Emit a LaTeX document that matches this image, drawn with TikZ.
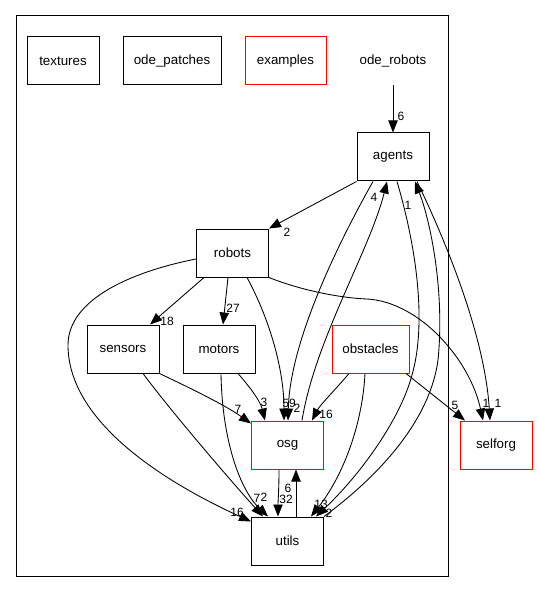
\documentclass[tikz,border=0pt]{standalone}
\usepackage{fontspec}
\setmainfont{Liberation Sans}
\usetikzlibrary{arrows.meta,calc}
\tikzset{
  box/.style={draw=black, line width=0.75pt, inner sep=0pt, minimum height=36pt, font=\fontsize{10}{12}\selectfont},
  redbox/.style={box, draw=red},
  plain/.style={inner sep=0pt, minimum height=36pt, font=\fontsize{10}{12}\selectfont},
  dep/.style={-{Triangle[length=9pt,width=7pt]}, line width=0.65pt},
  lbl/.style={font=\fontsize{9}{10}\selectfont, inner sep=0pt},
}
\begin{document}
\begin{tikzpicture}[x=0.75pt,y=-0.75pt]
\useasboundingbox (0,0) rectangle (537,602);
% cluster
\node[draw=black, line width=0.75pt, minimum width=324pt, minimum height=420pt, inner sep=0pt] (cluster) at (232,296) {};
% nodes
\node[box, minimum width=54pt] (textures) at (63,61) {textures};
\node[box, minimum width=73.5pt] (odepatches) at (172,61) {ode\_patches};
\node[redbox, minimum width=60.75pt] (examples) at (285.5,61) {examples};
\node[plain] (oderobots) at (393,61) {ode\_robots};
\node[box, minimum width=54pt] (agents) at (393,157) {agents};
\node[box, minimum width=54pt] (robots) at (232.5,253) {robots};
\node[box, minimum width=54pt] (sensors) at (123,349) {sensors};
\node[box, minimum width=54pt] (motors) at (219,349) {motors};
\node[redbox, minimum width=57.75pt] (obstacles) at (370.5,349) {obstacles};
\node[redbox, minimum width=54pt] (osg) at (287.5,445) {osg};
\node[box, minimum width=54pt] (utils) at (287.5,541) {utils};
\node[redbox, minimum width=54pt] (selforg) at (496,445) {selforg};
% edges
\draw[dep] (oderobots.south) -- (agents.north);
\draw[dep] (agents.south west) -- (robots.north east);
\draw[dep] ($(robots.south)+(-28.5,0)$) -- ($(sensors.north)+(27,0)$);
\draw[dep] ($(robots.south)+(-4.5,0)$) -- ($(motors.north)+(4,0)$);
\draw[dep] ($(robots.west)+(0,6)$) .. controls (130,272) and (68,300) .. (68,345)
   .. controls (68,420) and (160,480) .. ($(utils.north west)+(0,5)$);
\draw[dep] ($(robots.south)+(14.5,0)$) .. controls (270,320) and (284,370) .. ($(osg.north)+(-3.5,0)$);
\draw[dep] (robots.south east) .. controls (300,290) and (340,298) .. (367,299)
   .. controls (420,302) and (470,360) .. ($(selforg.north)+(-13,0)$);
\draw[dep] (sensors.south east) .. controls (190,388) and (225,405) .. ($(osg.north west)+(0,3)$);
\draw[dep] ($(sensors.south)+(20,0)$) .. controls (170,410) and (230,480) .. ($(utils.north)+(-24.5,0)$);
\draw[dep] ($(motors.south)+(19,0)$) .. controls (248,385) and (260,400) .. ($(osg.north)+(-22.5,0)$);
\draw[dep] ($(motors.south)+(2,0)$) .. controls (222,440) and (240,490) .. ($(utils.north)+(-19.5,0)$);
\draw[dep] ($(osg.south)+(-8.5,0)$) .. controls (279,490) and (278,500) .. ($(utils.north)+(-9.5,0)$);
\draw[dep] ($(utils.north)+(8.5,0)$) -- ($(osg.south)+(8.5,0)$);
\draw[dep] ($(agents.south)+(-20,0)$) .. controls (340,240) and (290,340) .. ($(osg.north)+(0.5,0)$);
\draw[dep] ($(osg.north)+(14.5,0)$) .. controls (315,340) and (370,250) .. ($(agents.south)+(-6,0)$);
\draw[dep] ($(agents.south)+(4,0)$) .. controls (420,260) and (425,330) .. (412,375)
   .. controls (400,420) and (360,475) .. ($(utils.north)+(28.5,0)$);
\draw[dep] (utils.north east) .. controls (380,475) and (430,420) .. (438,360)
   .. controls (445,290) and (430,220) .. ($(agents.south)+(22,0)$);
\draw[dep] ($(agents.south)+(24,0)$) .. controls (450,250) and (485,340) .. ($(selforg.north)+(-6,0)$);
\draw[dep] ($(obstacles.south)+(-21.5,0)$) .. controls (335,390) and (320,405) .. ($(osg.north)+(24.5,0)$);
\draw[dep] ($(obstacles.south)+(-5.5,0)$) .. controls (362,430) and (340,480) .. ($(utils.north)+(23.5,0)$);
\draw[dep] ($(obstacles.south)+(35.5,0)$) -- ($(selforg.north)+(-31,0)$);
% labels
\node[lbl] (l1) at (401,116) {6};
\node[lbl] (l2) at (287,232) {2};
\node[lbl] (l3) at (167,321) {18};
\node[lbl] (l4) at (233,308) {27};
\node[lbl] (l5) at (237,512) {16};
\node[lbl] (l6) at (289,403) {59};
\node[lbl] (l7) at (297,408) {2};
\node[lbl] (l8) at (486,403) {1};
\node[lbl] (l9) at (498,403) {1};
\node[lbl] (l10) at (238,409) {7};
\node[lbl] (l11) at (257,498) {7};
\node[lbl] (l12) at (264,497) {2};
\node[lbl] (l13) at (264,402) {3};
\node[lbl] (l14) at (286,499) {32};
\node[lbl] (l15) at (288,488) {6};
\node[lbl] (l16) at (374,197) {4};
\node[lbl] (l17) at (408,205) {1};
\node[lbl] (l18) at (326,414) {16};
\node[lbl] (l19) at (321,504) {13};
\node[lbl] (l20) at (329,513) {2};
\node[lbl] (l21) at (455,405) {5};
\end{tikzpicture}
\end{document}
